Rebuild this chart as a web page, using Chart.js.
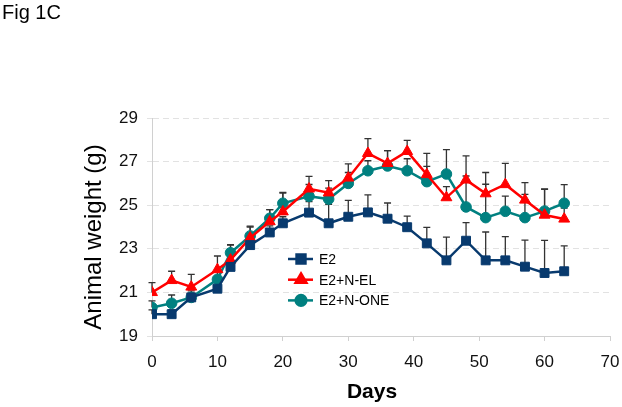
<!DOCTYPE html>
<html>
<head>
<meta charset="utf-8">
<script src="https://cdn.jsdelivr.net/npm/chart.js@4/dist/chart.umd.min.js"></script>
<style>
  html, body { margin: 0; padding: 0; background: #fff; }
  canvas { display: block; }
</style>
</head>
<body>
<canvas id="weightChart" width="622" height="407"></canvas>
<script>
// data
const days = [0, 3, 6, 10, 12, 15, 18, 20, 24, 27, 30, 33, 36, 39, 42, 45, 48, 51, 54, 57, 60, 63];
const e2 = [20.0, 20.0, 20.77, 21.17, 22.17, 23.17, 23.75, 24.17, 24.66, 24.17, 24.47, 24.67, 24.38, 23.99, 23.25, 22.47, 23.37, 22.47, 22.47, 22.18, 21.89, 21.97];
const e2Err = [0.2, 0.2, 0.2, 0.3, 0.3, 0.3, 0.3, 0.3, 0.5, 0.87, 0.75, 0.8, 0.72, 0.51, 0.73, 1.07, 0.83, 1.3, 1.09, 1.22, 1.5, 1.16];
const e2El = [21.0, 21.55, 21.25, 22.05, 22.49, 23.5, 24.25, 24.7, 25.75, 25.57, 26.25, 27.38, 26.92, 27.47, 26.41, 25.35, 26.16, 25.53, 25.95, 25.24, 24.55, 24.37];
const e2ElErr = [0.45, 0.42, 0.58, 0.62, 0.7, 0.5, 0.55, 0.85, 0.57, 0.56, 0.65, 0.67, 0.58, 0.5, 0.97, 0.5, 1.1, 0.97, 0.97, 0.8, 1.2, 0.5];
const e2One = [20.31, 20.5, 20.77, 21.6, 22.82, 23.59, 24.4, 25.09, 25.41, 25.28, 26.0, 26.58, 26.8, 26.58, 26.08, 26.43, 24.92, 24.43, 24.72, 24.43, 24.73, 25.09];
const e2OneErr = [0.3, 0.38, 0.3, 0.4, 0.35, 0.45, 0.4, 0.5, 0.54, 0.5, 0.5, 0.46, 0.7, 0.55, 0.7, 1.12, 1.42, 1.53, 0.7, 1.07, 1.0, 0.85];
const yTicks = [19, 21, 23, 25, 27, 29];
const xTicks = [0, 10, 20, 30, 40, 50, 60, 70];

const FONT = "'Liberation Sans', Arial, sans-serif";

const series = [
  { label: "E2", values: e2, errors: e2Err, color: "#083a6e", point: "rect", radius: 6.3 },
  { label: "E2+N-EL", values: e2El, errors: e2ElErr, color: "#ff0000", point: "triangle", radius: 6.3 },
  { label: "E2+N-ONE", values: e2One, errors: e2OneErr, color: "#008080", point: "circle", radius: 5.3 },
];

// upper error bars, drawn under the lines and markers
const errorBars = {
  id: "errorBars",
  beforeDatasetsDraw(chart) {
    const ctx = chart.ctx;
    const y = chart.scales.y;
    ctx.save();
    ctx.strokeStyle = "#333";
    ctx.lineWidth = 1.3;
    chart.data.datasets.forEach((ds, di) => {
      const meta = chart.getDatasetMeta(di);
      meta.data.forEach((pt, i) => {
        const top = y.getPixelForValue(ds.data[i].y + ds.errors[i]);
        ctx.beginPath();
        ctx.moveTo(pt.x, pt.y);
        ctx.lineTo(pt.x, top);
        ctx.moveTo(pt.x - 3.5, top);
        ctx.lineTo(pt.x + 3.5, top);
        ctx.stroke();
      });
    });
    ctx.restore();
  },
};

// figure label, axis titles and the inset legend
const decorations = {
  id: "decorations",
  afterDraw(chart) {
    const ctx = chart.ctx;
    ctx.save();
    ctx.fillStyle = "#000";
    ctx.textBaseline = "alphabetic";
    ctx.textAlign = "left";
    ctx.font = "20px " + FONT;
    ctx.fillText("Fig 1C", 2, 19);

    ctx.textAlign = "center";
    ctx.textBaseline = "middle";
    ctx.font = "bold 21px " + FONT;
    ctx.fillText("Days", 372, 392);

    ctx.save();
    ctx.translate(94, 237);
    ctx.rotate(-Math.PI / 2);
    ctx.font = "24px " + FONT;
    ctx.fillText("Animal weight (g)", 0, 0);
    ctx.restore();

    // legend
    const lx = 288, ly = 259;
    series.forEach((s, i) => {
      const yy = ly + i * 20.7;
      ctx.strokeStyle = s.color;
      ctx.lineWidth = 2.5;
      ctx.beginPath();
      ctx.moveTo(lx, yy);
      ctx.lineTo(lx + 25, yy);
      ctx.stroke();
      ctx.fillStyle = s.color;
      Chart.helpers.drawPoint(ctx, { pointStyle: s.point, radius: s.radius, borderWidth: 1, rotation: 0 }, lx + 13, yy);
      ctx.fill();
      ctx.fillStyle = "#000";
      ctx.textAlign = "left";
      ctx.font = "14px " + FONT;
      ctx.fillText(s.label, lx + 31, yy + 1);
    });
    ctx.restore();
  },
};

new Chart(document.getElementById("weightChart").getContext("2d"), {
  type: "line",
  data: {
    datasets: series.map((s) => ({
      label: s.label,
      data: days.map((d, i) => ({ x: d, y: s.values[i] })),
      errors: s.errors,
      borderColor: s.color,
      backgroundColor: s.color,
      borderWidth: 2.5,
      pointStyle: s.point,
      pointRadius: s.radius,
      pointBorderWidth: 1,
      pointBackgroundColor: s.color,
      pointBorderColor: s.color,
      tension: 0,
    })),
  },
  options: {
    responsive: false,
    animation: false,
    devicePixelRatio: 1,
    layout: { padding: { top: 118, right: 12, left: 0, bottom: 0 } },
    plugins: {
      legend: { display: false },
      tooltip: { enabled: false },
    },
    scales: {
      x: {
        type: "linear",
        min: 0,
        max: 70,
        afterBuildTicks: (s) => { s.ticks = xTicks.map((v) => ({ value: v })); },
        afterFit: (s) => {
          s.height = 71;
          s.paddingLeft = 0;
          s.paddingRight = 0;
        },
        ticks: { color: "#111", font: { family: FONT, size: 17 }, padding: 11, maxRotation: 0 },
        grid: { drawOnChartArea: false, drawTicks: true, tickLength: 5, color: "#d0d0d0" },
        border: { color: "#d0d0d0", width: 1 },
      },
      y: {
        min: 19,
        max: 29,
        afterBuildTicks: (s) => { s.ticks = yTicks.map((v) => ({ value: v })); },
        afterFit: (s) => {
          s.width = 152;
          s.paddingTop = 0;
          s.paddingBottom = 0;
        },
        ticks: { color: "#111", font: { family: FONT, size: 17 }, padding: 9 },
        grid: { color: "#e2e2e2", tickLength: 5 },
        border: { color: "#d0d0d0", width: 1, dash: [6, 4] },
      },
    },
  },
  plugins: [errorBars, decorations],
});
</script>
</body>
</html>
